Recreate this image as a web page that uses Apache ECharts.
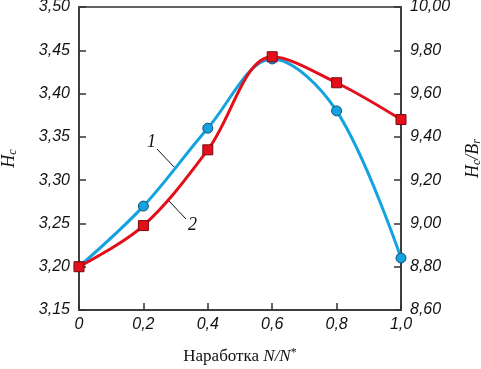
<!DOCTYPE html>
<html>
<head>
<meta charset="utf-8">
<script src="https://cdn.jsdelivr.net/npm/echarts@6/dist/echarts.min.js"></script>
<style>
  html, body { margin: 0; padding: 0; background: #fff; }
</style>
</head>
<body>
<div id="main" style="width: 481px; height: 369px"></div>
<script>
const xValues = [0, 0.2, 0.4, 0.6, 0.8, 1.0];
const hc = [3.20, 3.27, 3.36, 3.44, 3.38, 3.21];       // curve 1, left axis
const hcBr = [8.80, 8.99, 9.34, 9.77, 9.65, 9.48];     // curve 2, right axis

const fmtX = v => v === 0 ? '0' : v.toFixed(1).replace('.', ',');
const fmtY = v => v.toFixed(2).replace('.', ',');

const labelStyle = {
  fontFamily: 'Liberation Sans, Arial, sans-serif',
  fontStyle: 'italic',
  fontSize: 16,
  color: '#111'
};
const axisLineStyle = { color: '#333', width: 1.5 };
const serif = 'Liberation Serif, Times New Roman, serif';

const myChart = echarts.init(document.getElementById('main'));
myChart.setOption({
  animation: false,
  grid: {
    left: 79, right: 80, top: 7, bottom: 59,
    outerBoundsMode: 'none',
    containLabel: false,
    show: true, borderColor: '#333', borderWidth: 1.5
  },
  xAxis: {
    type: 'value',
    min: 0, max: 1, interval: 0.2,
    splitLine: { show: false },
    axisLine: { lineStyle: axisLineStyle },
    axisTick: { inside: true, length: 7, lineStyle: axisLineStyle },
    axisLabel: Object.assign({ formatter: fmtX, margin: 7 }, labelStyle),
    name: '{n|Наработка }{i|N/N}{s|*}',
    nameLocation: 'middle',
    nameGap: 37,
    nameTextStyle: {
      rich: {
        n: { fontFamily: serif, fontSize: 17, color: '#111' },
        i: { fontFamily: serif, fontSize: 17, fontStyle: 'italic', color: '#111' },
        s: { fontFamily: serif, fontSize: 12, color: '#111', verticalAlign: 'top', padding: [0, 0, 8, 0] }
      }
    }
  },
  yAxis: [
    {
      type: 'value',
      min: 3.15, max: 3.50, interval: 0.05,
      splitLine: { show: false },
      axisLine: { show: true, lineStyle: axisLineStyle },
      axisTick: { show: true, inside: true, length: 7, lineStyle: axisLineStyle },
      axisLabel: Object.assign({ formatter: fmtY, margin: 9 }, labelStyle),
      name: '{h|H}{c|c}',
      nameLocation: 'middle',
      nameGap: 60,
      nameRotate: 90,
      nameTextStyle: {
        rich: {
          h: { fontFamily: serif, fontSize: 18, fontStyle: 'italic', color: '#111' },
          c: { fontFamily: serif, fontSize: 12, fontStyle: 'italic', color: '#111', padding: [8, 0, 0, 0] }
        }
      }
    },
    {
      type: 'value',
      min: 8.60, max: 10.00, interval: 0.2,
      position: 'right',
      splitLine: { show: false },
      axisLine: { show: true, lineStyle: axisLineStyle },
      axisTick: { show: true, inside: true, length: 7, lineStyle: axisLineStyle },
      axisLabel: Object.assign({ formatter: fmtY, margin: 9 }, labelStyle),
      name: '{h|H}{c|c}{h|/B}{c|r}',
      nameLocation: 'middle',
      nameGap: 62,
      nameRotate: 90,
      nameTextStyle: {
        rich: {
          h: { fontFamily: serif, fontSize: 18, fontStyle: 'italic', color: '#111' },
          c: { fontFamily: serif, fontSize: 12, fontStyle: 'italic', color: '#111', padding: [8, 0, 0, 0] }
        }
      }
    }
  ],
  series: [
    {
      name: '1',
      type: 'line',
      yAxisIndex: 0,
      smooth: 0.35,
      data: xValues.map((x, i) => [x, hc[i]]),
      symbol: 'circle',
      symbolSize: 10,
      lineStyle: { color: '#13a3e0', width: 3 },
      itemStyle: { color: '#13a3e0', borderColor: '#1a4d6e', borderWidth: 1 },
      z: 3
    },
    {
      name: '2',
      type: 'line',
      yAxisIndex: 1,
      smooth: 0.35,
      data: xValues.map((x, i) => [x, hcBr[i]]),
      symbol: 'rect',
      symbolSize: 10,
      lineStyle: { color: '#e3101c', width: 3 },
      itemStyle: { color: '#e3101c', borderColor: '#7a0a0f', borderWidth: 1 },
      z: 4
    }
  ],
  graphic: [
    { type: 'text', left: 147, top: 133, style: { text: '1', font: 'italic 18px Liberation Serif', fill: '#111' } },
    { type: 'line', shape: { x1: 157, y1: 149, x2: 175, y2: 168 }, style: { stroke: '#111', lineWidth: 1 } },
    { type: 'text', left: 188, top: 216, style: { text: '2', font: 'italic 18px Liberation Serif', fill: '#111' } },
    { type: 'line', shape: { x1: 169, y1: 201, x2: 186, y2: 219 }, style: { stroke: '#111', lineWidth: 1 } }
  ]
});
</script>
</body>
</html>
